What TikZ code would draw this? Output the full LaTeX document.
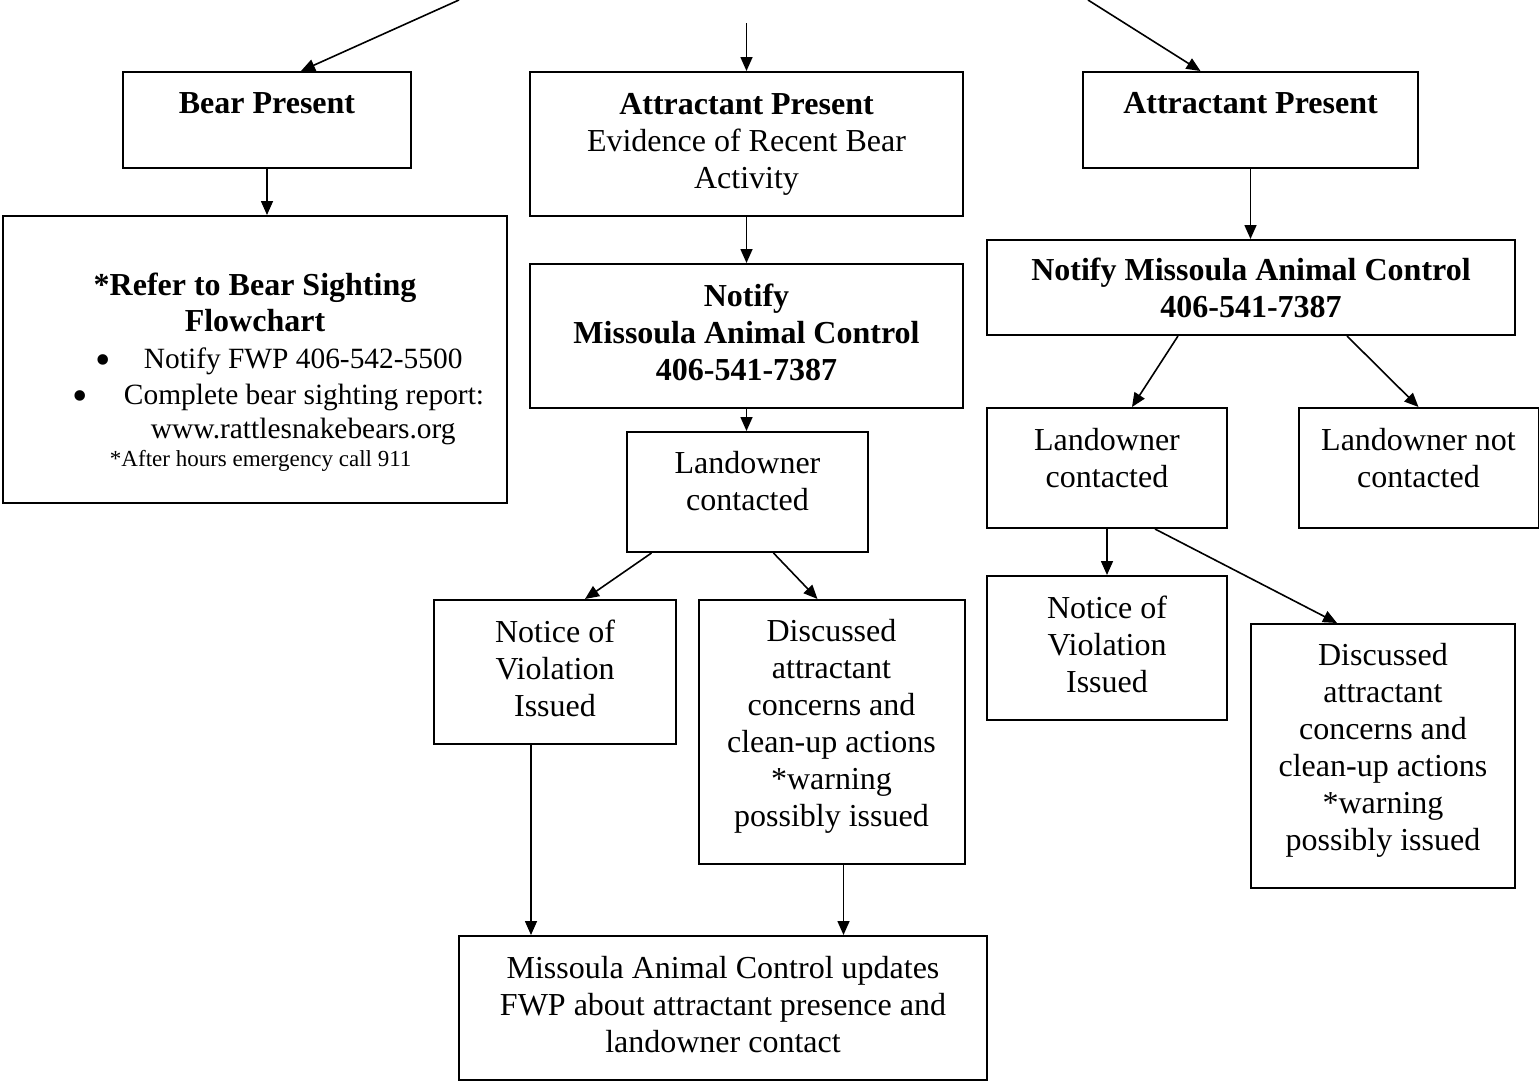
\documentclass[tikz,border=0pt]{standalone}
\usepackage{fontspec}
\setmainfont{Liberation Serif}
\usetikzlibrary{arrows.meta}
\newcommand{\bigbul}{\makebox[0pt]{\raisebox{-3pt}{\fontsize{22}{18}\selectfont\textbullet}}}
\newcommand{\listfont}{\fontsize{14.7}{18}\selectfont}

\begin{document}
\begin{tikzpicture}[x=0.5pt,y=-0.5pt]
		\tikzstyle{every node}+=[inner sep=0pt, font=\fontsize{16}{18.5}\selectfont]
		\tikzstyle{box}=[draw=black, line width=1pt, align=center]
		\tikzstyle{arr}=[line width=0.8pt, -{Triangle[length=7pt,width=6pt]}]
		\useasboundingbox (0,0) rectangle (1539,1082);
		% first row
		\node [box, minimum width=144pt, minimum height=48pt] (bear) at (267,120) {\textbf{Bear Present}\\[-1.5pt]\mbox{}};
		\node [box, minimum width=216.5pt, minimum height=72pt] (attr1) at (746.5,144) {\textbf{Attractant Present}\\Evidence of Recent Bear\\Activity};
		\node [box, minimum width=167.5pt, minimum height=48pt] (attr2) at (1250.5,120) {\textbf{Attractant Present}\\[-1.5pt]\mbox{}};
		% second row
		\node [box, minimum width=252pt, minimum height=143.5pt] (sight) at (255,359.5) {\rule{0pt}{24pt}\textbf{*Refer to Bear Sighting}\\[-0.5pt]
			\textbf{Flowchart}\\
			\makebox[252pt][l]{\listfont\hspace*{50pt}\bigbul\hspace*{20.5pt}Notify FWP 406-542-5500}\\[-0.5pt]
			\makebox[252pt][l]{\listfont\hspace*{38.5pt}\bigbul\hspace*{22pt}Complete bear sighting report:}\\[-1.5pt]
			\makebox[252pt][l]{\listfont\hspace*{74pt}www.rattlesnakebears.org}\\[-4.5pt]
			\makebox[252pt][l]{\fontsize{11.5}{14}\selectfont\hspace*{53.5pt}*After hours emergency call 911}};
		\node [box, minimum width=216.5pt, minimum height=72pt] (notify1) at (746.5,336) {\textbf{Notify}\\\textbf{Missoula Animal Control}\\\textbf{406-541-7387}\\[-14.5pt]\mbox{}};
		\node [box, minimum width=264pt, minimum height=47.5pt] (notify2) at (1251,287.5) {\textbf{Notify Missoula Animal Control}\\\textbf{406-541-7387}};
		% landowner
		\node [box, minimum width=120.5pt, minimum height=60pt] (land1) at (747.5,492) {Landowner\\contacted\\[-7pt]\mbox{}};
		\node [box, minimum width=120pt, minimum height=60pt] (land2) at (1107,468) {Landowner\\contacted\\[-8pt]\mbox{}};
		\node [box, minimum width=120pt, minimum height=60pt] (landno) at (1418.5,468) {Landowner not\\contacted\\[-8pt]\mbox{}};
		% outcomes
		\node [box, minimum width=121pt, minimum height=72pt] (nov1) at (555,672) {Notice of\\Violation\\Issued\\[-14.5pt]\mbox{}};
		\node [box, minimum width=133pt, minimum height=132pt] (disc1) at (831.5,732) {Discussed\\attractant\\concerns and\\clean-up actions\\*warning\\possibly issued\\[-9pt]\mbox{}};
		\node [box, minimum width=120pt, minimum height=72pt] (nov2) at (1107,648) {Notice of\\Violation\\Issued\\[-14.5pt]\mbox{}};
		\node [box, minimum width=132pt, minimum height=132pt] (disc2) at (1383,756) {Discussed\\attractant\\concerns and\\clean-up actions\\*warning\\possibly issued\\[-9pt]\mbox{}};
		\node [box, minimum width=264pt, minimum height=72pt] (mac) at (723,1008) {Missoula Animal Control updates\\FWP about attractant presence and\\landowner contact\\[-15pt]\mbox{}};
		% incoming arrows
		\coordinate (tl) at (459,0);
		\coordinate (tm) at (746.5,23);
		\coordinate (tr) at (1088,0);
		\draw [arr] (tl) -- ([xshift=17pt]bear.north);
		\draw [arr] (tm) -- (attr1.north);
		\draw [arr] (tr) -- ([xshift=-25pt]attr2.north);
		% connectors
		\draw [arr] (bear.south) -- (bear.south |- sight.north);
		\draw [arr] (attr1.south) -- (notify1.north);
		\draw [arr] (notify1.south) -- (notify1.south |- land1.north);
		\draw [arr] (attr2.south) -- (attr2.south |- notify2.north);
		\draw [arr] ([xshift=-36.5pt]notify2.south) -- ([xshift=12.5pt]land2.north);
		\draw [arr] ([xshift=48pt]notify2.south) -- (landno.north);
		\draw [arr] (land2.south) -- (nov2.north);
		\draw [arr] ([xshift=24pt]land2.south) -- ([xshift=-23pt]disc2.north);
		\draw [arr] ([xshift=-48pt]land1.south) -- ([xshift=15pt]nov1.north);
		\draw [arr] ([xshift=13pt]land1.south) -- ([xshift=-7pt]disc1.north);
		\draw [arr] ([xshift=-12pt]nov1.south) -- ([xshift=-12pt]nov1.south |- mac.north);
		\draw [arr] ([xshift=6pt]disc1.south) -- ([xshift=6pt]disc1.south |- mac.north);
	\end{tikzpicture}
\end{document}
